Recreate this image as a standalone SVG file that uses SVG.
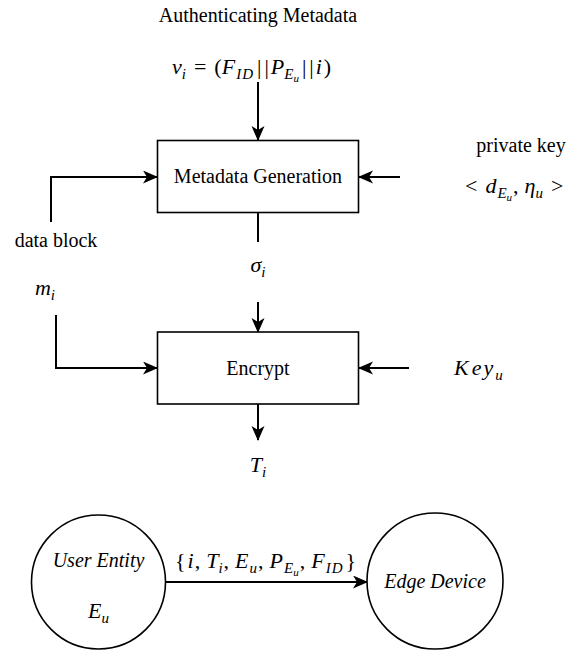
<svg xmlns="http://www.w3.org/2000/svg" width="581" height="650" viewBox="0 0 581 650">
  <style>
    .t { font-family: "Liberation Serif", "Times New Roman", serif; font-size: 20px; fill: #000; }
    .m { font-family: "Liberation Serif", "Times New Roman", serif; font-size: 22px; fill: #000; }
    .i { font-style: italic; }
    .sub { font-size: 15px; font-style: italic; }
    .sub2 { font-size: 11px; font-style: italic; }
    .box { fill: #fff; stroke: #000; stroke-width: 1.6; }
    .node { fill: #fff; stroke: #000; stroke-width: 1.6; }
    .wire { fill: none; stroke: #000; stroke-width: 2; }
    .arrow { fill: none; stroke: #000; stroke-width: 2; marker-end: url(#head); }
  </style>
  <defs>
    <marker id="head" markerUnits="userSpaceOnUse" markerWidth="16" markerHeight="14" refX="14" refY="6.5" orient="auto">
      <path d="M0,0 L15,6.5 L0,13 L4,6.5 Z" fill="#000"/>
    </marker>
  </defs>

  <rect width="581" height="650" fill="#fff"/>

  <!-- connectors -->
  <g id="connectors">
    <path class="arrow" d="M258,82 L258,140"/>
    <path class="arrow" d="M51,222 L51,177 L157,177"/>
    <path class="arrow" d="M400,177 L359,177"/>
    <path class="wire" d="M258,212.5 L258,242"/>
    <path class="arrow" d="M258,302 L258,332"/>
    <path class="arrow" d="M56,315 L56,368 L157,368"/>
    <path class="arrow" d="M409,368 L359,368"/>
    <path class="arrow" d="M258,404 L258,440"/>
    <path class="arrow" d="M165,582 L367,582"/>
  </g>

  <!-- free labels -->
  <g id="labels">
    <text class="t" x="258" y="22" text-anchor="middle">Authenticating Metadata</text>
    <text class="m" x="172" y="74"><tspan class="i">v</tspan><tspan class="sub" dy="5">i</tspan><tspan dx="8" dy="-5">=</tspan><tspan dx="8">(</tspan><tspan class="i">F</tspan><tspan class="sub" dx="1" dy="5" letter-spacing="1">ID</tspan><tspan dx="3" dy="-5">|</tspan><tspan dx="3">|</tspan><tspan class="i" dx="2">P</tspan><tspan class="sub" dy="5">E</tspan><tspan class="sub2" dy="3">u</tspan><tspan dx="3" dy="-8">|</tspan><tspan dx="3">|</tspan><tspan class="i" dx="2">i</tspan><tspan dx="2">)</tspan></text>
    <text class="t" x="521" y="152" text-anchor="middle">private key</text>
    <text class="m" x="465" y="193"><tspan>&lt;</tspan><tspan class="i" dx="8">d</tspan><tspan class="sub" dx="1" dy="5">E</tspan><tspan class="sub2" dy="3">u</tspan><tspan dx="1" dy="-8">,</tspan><tspan class="i" dx="6">η</tspan><tspan class="sub" dy="5">u</tspan><tspan dx="8" dy="-5">&gt;</tspan></text>
    <text class="t" x="56" y="247" text-anchor="middle">data block</text>
    <text class="m" x="258" y="272" text-anchor="middle"><tspan class="i">σ</tspan><tspan class="sub" dy="5">i</tspan></text>
    <text class="m" x="45" y="295" text-anchor="middle"><tspan class="i">m</tspan><tspan class="sub" dy="5">i</tspan></text>
    <text class="m" x="454" y="375"><tspan class="i">K</tspan><tspan class="i" dx="3">e</tspan><tspan class="i" dx="2">y</tspan><tspan class="sub" dx="2" dy="5">u</tspan></text>
    <text class="m" x="258" y="472" text-anchor="middle"><tspan class="i">T</tspan><tspan class="sub" dy="5">i</tspan></text>
    <text class="m" x="175" y="568"><tspan>{</tspan><tspan class="i" dx="2">i</tspan><tspan dx="1">,</tspan><tspan class="i" dx="6">T</tspan><tspan class="sub" dy="5">i</tspan><tspan dx="1" dy="-5">,</tspan><tspan class="i" dx="6">E</tspan><tspan class="sub" dx="1" dy="5">u</tspan><tspan dx="1" dy="-5">,</tspan><tspan class="i" dx="6">P</tspan><tspan class="sub" dx="1" dy="5">E</tspan><tspan class="sub2" dy="3">u</tspan><tspan dx="1" dy="-8">,</tspan><tspan class="i" dx="6">F</tspan><tspan class="sub" dx="1" dy="5" letter-spacing="1">ID</tspan><tspan dx="2" dy="-5">}</tspan></text>
  </g>

  <g id="metadata-generation">
    <rect class="box" x="157.5" y="140.5" width="201" height="72"/>
    <text class="t" x="258" y="183" text-anchor="middle">Metadata Generation</text>
  </g>

  <g id="encrypt">
    <rect class="box" x="157.5" y="332" width="201" height="72"/>
    <text class="t" x="258" y="375" text-anchor="middle">Encrypt</text>
  </g>

  <g id="user-entity">
    <circle class="node" cx="98.5" cy="582" r="67"/>
    <text class="t i" x="98.5" y="567" text-anchor="middle">User Entity</text>
    <text class="m" x="98.5" y="618" text-anchor="middle"><tspan class="i">E</tspan><tspan class="sub" dy="5">u</tspan></text>
  </g>

  <g id="edge-device">
    <circle class="node" cx="435" cy="581" r="68"/>
    <text class="t i" x="435" y="588" text-anchor="middle">Edge Device</text>
  </g>
</svg>
